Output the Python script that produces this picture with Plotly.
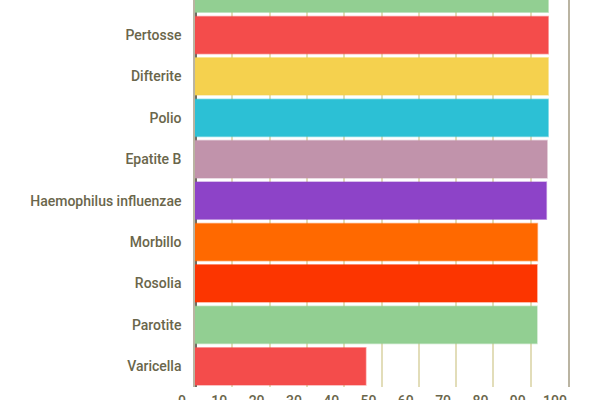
import plotly.graph_objects as go

vaccines = ["Tetano", "Pertosse", "Difterite", "Polio", "Epatite B",
            "Haemophilus influenzae", "Morbillo", "Rosolia", "Parotite", "Varicella"]
coverage = [94.7, 94.7, 94.7, 94.7, 94.4, 94.2, 91.8, 91.7, 91.7, 45.8]
colors = ["#92cf92", "#f44c4b", "#f5d14e", "#2cc0d5", "#c193ab",
          "#8d43c8", "#ff6900", "#fc3500", "#92cf92", "#f44c4b"]
x_ticks = [0, 10, 20, 30, 40, 50, 60, 70, 80, 90, 100]


def soften(hex_color, alpha=0.45):
    h = hex_color.lstrip("#")
    r, g, b = int(h[0:2], 16), int(h[2:4], 16), int(h[4:6], 16)
    return f"rgba({r},{g},{b},{alpha})"


fig = go.Figure(go.Bar(
    x=coverage,
    y=vaccines,
    orientation="h",
    marker=dict(color=colors,
                line=dict(color=[soften(c) for c in colors], width=1.5)),
    hoverinfo="x+y",
))

label_font = dict(family="Roboto", size=14, color="#6a664b", weight=500)

fig.update_layout(
    width=600, height=400,
    margin=dict(l=195, r=32, t=0, b=13),
    paper_bgcolor="white",
    plot_bgcolor="white",
    bargap=0.1,
    showlegend=False,
)
fig.update_xaxes(
    automargin=False,
    range=[0, 100],
    tickvals=x_ticks,
    ticktext=[str(v) for v in x_ticks],
    showgrid=True,
    gridcolor="#e2ddb9",
    gridwidth=1.5,
    zeroline=True,
    zerolinecolor="#6f6e63",
    zerolinewidth=2.5,
    showline=False,
    ticks="",
    tickfont=label_font,
    ticklabelshift=-13,
    ticklabelstandoff=4,
)
fig.update_yaxes(
    automargin=False,
    type="category",
    range=[9.5, 0.154],
    showgrid=False,
    zeroline=False,
    showline=True,
    mirror=True,
    linecolor="#bab4a2",
    linewidth=1.5,
    ticks="",
    tickfont=label_font,
    ticklabelstandoff=9,
)

fig.write_html(
    "out.html",
    config={"displayModeBar": False},
    post_script="document.body.style.margin='0';document.body.style.overflow='hidden';",
)
